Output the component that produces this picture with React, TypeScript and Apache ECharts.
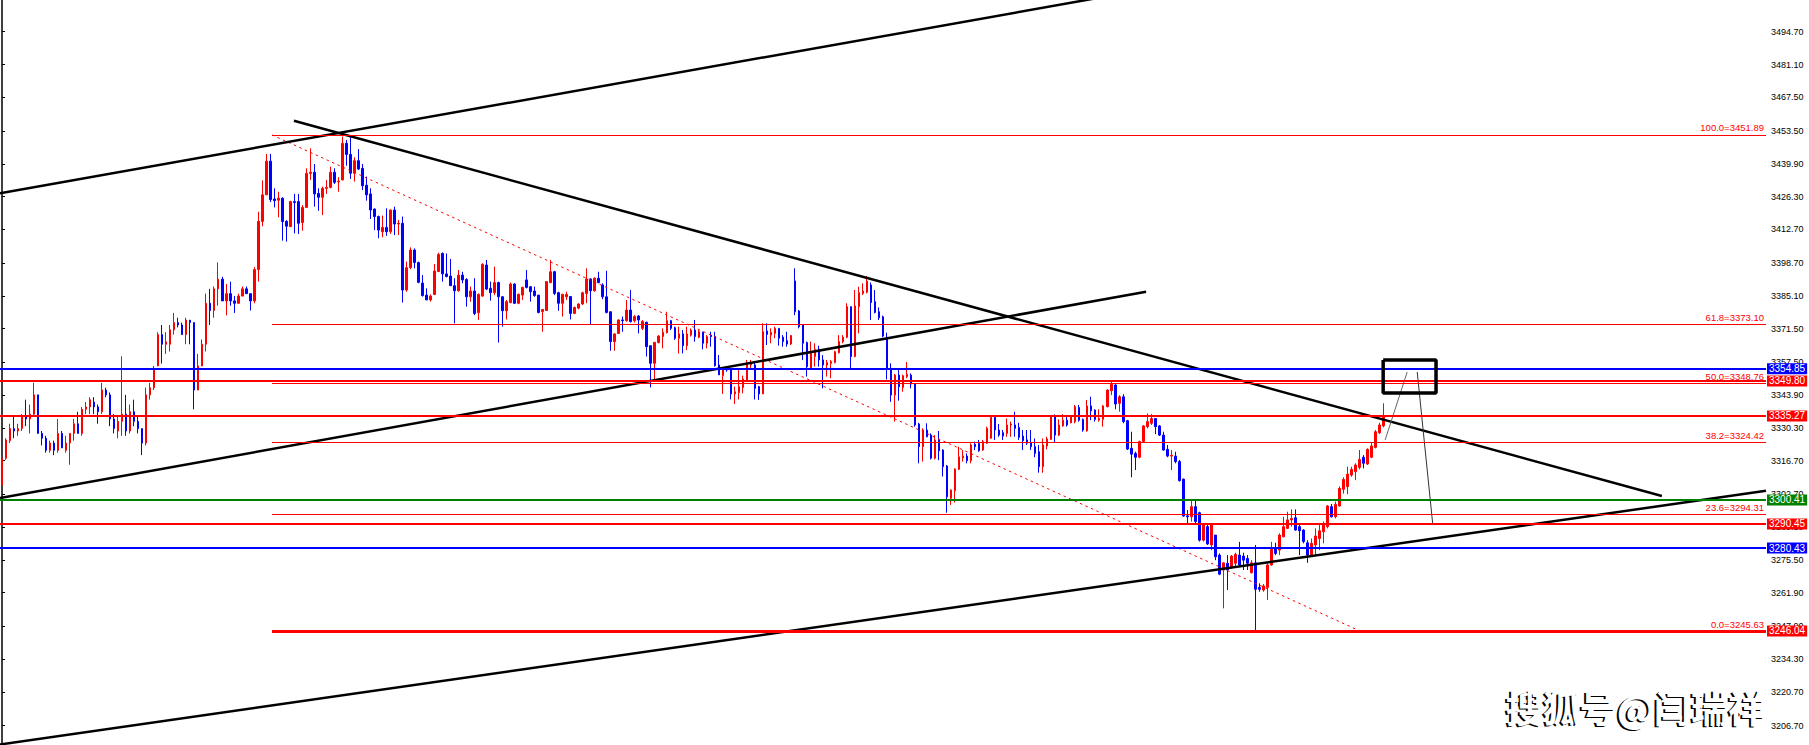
import React, { useEffect, useRef } from "react";
import * as echarts from "echarts";

// ---- candle data ----
const opens = [
3306.6,3317.7,3325,3330,3329,3330,3335,3334,3336,3344,3328,3326,3321,3324,3321,3328,3321,3324,3328,3332,
3328,3338,3339,3341,3339,3337,3346,3344,3334,3329,3333,3336,3329,3337,3333,3330,3324,3344,3347,3356,
3369,3365,3365,3371,3374,3373,3369,3375,3374,3346,3356,3365,3382,3379,3388,3392,3383,3386,3383,3382,
3385,3388,3386,3383,3396,3416,3427,3441,3425.3,3424.8,3425.6,3416,3413.8,3424.2,3424.2,3415.5,3421.8,3435.9,3436.4,3427.6,
3426,3429.7,3430.1,3436.4,3432.4,3433.2,3448.4,3443.8,3436,3441.2,3438,3431,3427.4,3421.1,3418,3411.7,3413.5,3411.7,3420.7,3414.9,
3415.2,3387.5,3396.8,3404.1,3398.9,3390.4,3385.4,3383.4,3385.7,3395.2,3402.7,3394.2,3393.3,3389.3,3387.2,3393.7,3391.9,3384.7,3387.1,3378.1,
3385,3397.9,3388.2,3386.4,3390.6,3384.7,3378.9,3382.3,3390,3382,3385.4,3391.7,3388.9,3387.1,3385.4,3378.6,3379,3390.6,3395.1,3386.4,
3382,3384.7,3384.8,3377.8,3380,3381.7,3386.1,3392.1,3387.2,3392.4,3389.6,3384.7,3378.5,3366.1,3369.5,3375.1,3374.8,3379.2,3374.8,3376.7,
3371.6,3374.1,3364.4,3357.1,3365.7,3368.2,3369.8,3374.8,3371.9,3367.5,3369.3,3364.4,3368.8,3370.9,3367.9,3370,3365.4,3368.8,3368.2,3356.4,
3352,3355,3354.3,3344.4,3344.9,3347.1,3350.2,3356.4,3356.4,3347.4,3344.4,3370.5,3368.8,3369.5,3371.6,3367.9,3366.5,3365.1,3391.3,3378.8,
3373,3365.7,3355,3359.9,3362.9,3358.5,3356.4,3357.1,3357.4,3361.5,3366.1,3367.9,3380.6,3359.9,3380.6,3386.1,3386.6,3389.6,3382.7,3378.5,
3376.4,3367.9,3355,3343.9,3352.2,3347.1,3351.6,3352.2,3348.5,3331.9,3322.5,3329.4,3327.3,3317.7,3325.3,3321.1,3314.5,3301.1,3304.2,3313.1,
3317.9,3318.6,3316.7,3323.5,3323.9,3321.1,3323.9,3326,3334.7,3329.4,3328.3,3328,3331.5,3331.5,3330.5,3326.9,3325.3,3324.2,3322.5,3320.4,
3314.2,3322.8,3325.5,3335.2,3327.3,3331.1,3333.5,3332.4,3332.9,3338.8,3333.8,3329.1,3339.4,3337.7,3333.5,3333.8,3339.1,3345.7,3348.1,3340.5,
3343.2,3333.3,3321.8,3319.7,3318.1,3324.6,3330.8,3332.2,3334.2,3331.1,3327.3,3321.4,3318.6,3318.6,3316.3,3309,3293.8,3293.4,3297.6,3295.1,
3283.7,3289.3,3281.7,3285.8,3277.5,3271.3,3274.1,3272.7,3274.1,3277.5,3277.1,3276.1,3270.2,3274.3,3264.1,3263,3264.1,3273.4,3280.3,3279.6,
3285.1,3288.6,3292.1,3293,3289.3,3287.9,3282.6,3277.5,3281.7,3284.4,3287.2,3289.3,3297.6,3293.4,3297.9,3304.8,3305.9,3310.7,3312.1,3313.9,
3318.1,3315.3,3318.1,3322.2,3328.3,3331.1
];
const closes = [
3317.7,3325.3,3330,3329,3330,3335,3334,3336,3344,3328,3326,3321,3324,3321,3328,3322,3324,3328,3332,3328,
3338,3339,3342,3339,3337,3346,3344,3334,3330,3333,3336,3329,3337,3333,3330,3324,3344,3347,3355,3369,
3365,3366,3371,3374,3373,3369,3375,3374,3346,3356,3365,3382,3379,3388,3392,3383,3386,3383,3382,3385,
3388,3386,3383,3396,3416,3427,3441,3425,3424.6,3425.6,3415.9,3414,3424.2,3423.8,3415.2,3421.8,3435.9,3436.4,3427.4,3426,
3429.7,3430.1,3436.4,3432.2,3432.7,3448.4,3443.8,3436,3441.2,3437.7,3430.8,3427,3420.7,3418,3412.4,3413.5,3411.7,3420.7,3414.9,3415.2,
3387.5,3396.8,3404.1,3398.9,3390.7,3385.2,3383.4,3385,3395.4,3402.3,3394.2,3393.1,3389.3,3387.2,3393.7,3391.7,3384.7,3387.1,3377.8,3385.7,
3398.2,3387.9,3386.4,3390.6,3384.7,3378.9,3382.7,3390,3382,3385.7,3388.6,3388.6,3386.8,3385.2,3378.2,3379.4,3391,3395.1,3386.1,3382,
3385.7,3385.7,3377.8,3380.3,3381.7,3386.4,3392.1,3387.2,3392.4,3390.6,3384.7,3378.2,3366.1,3369.3,3375.1,3374.8,3379.2,3374.4,3376.5,3375.1,
3374.4,3364,3357.1,3365.8,3368.4,3370,3374.8,3371.6,3367.5,3369.3,3364.4,3369.3,3370.9,3368.2,3370.2,3365.4,3368.2,3368.2,3356.1,3352.3,
3354.3,3354.3,3344.4,3345.3,3347.4,3350.6,3357.1,3357.4,3346.7,3344.4,3370.2,3369.1,3369.9,3371.6,3367.5,3366.1,3365.1,3368.6,3378.5,3372.3,
3365.4,3355.7,3361.2,3362.9,3358.5,3356.4,3357.4,3357.8,3361.9,3366.1,3367.9,3380.6,3359.9,3380.9,3386.4,3387.1,3391.2,3382.3,3378.2,3376,
3368.4,3355,3343.9,3352.2,3347.4,3351.9,3352.5,3348.5,3331.5,3322.5,3329.4,3326.6,3317.7,3325.3,3320.8,3314.2,3301.7,3304.5,3313.2,3318.3,
3318.6,3316.7,3323.2,3322.5,3320.8,3324.6,3330.1,3334.7,3329.4,3327.3,3326.9,3331.5,3331.9,3330.1,3326.4,3325,3323.9,3322.5,3319.7,3314.2,
3323.2,3325.7,3335.4,3327.3,3331.5,3333.5,3331.5,3334.9,3339.1,3333.5,3329.4,3339.4,3337.4,3333.8,3334.2,3339.4,3346,3348.4,3340.2,3343.2,
3332.9,3321.5,3319.4,3318.1,3324.6,3331.1,3332.9,3334.2,3330.8,3327.3,3321.1,3318.6,3318.9,3316.3,3308.4,3293.7,3293.4,3297.6,3291.4,3283.7,
3290,3282.1,3290,3276.8,3269.6,3274.3,3271.3,3277.1,3277.8,3273.4,3275.4,3274.1,3274.3,3263.3,3263.3,3264.7,3273.4,3279.9,3278.2,3285.8,
3289.3,3292.1,3292.7,3287.9,3287.6,3283.1,3277.5,3282.4,3285.4,3287.6,3290,3297.9,3293.4,3298.6,3305.2,3308.9,3311.1,3313.1,3314.9,3317.2,
3315.6,3321.4,3322.8,3328.7,3331.5,3334.9
];
const lows = [
3306,3317,3324,3326,3327,3329,3331,3328,3335,3328,3323,3320,3320,3319,3320,3322,3320,3315,3325,3328,
3327,3336,3336,3336,3332,3336,3343,3331,3328,3326,3327,3327,3328,3331,3328,3319,3323,3342,3346,3356,
3357,3361,3362,3369,3372,3369,3365,3365,3338,3346,3356,3362,3373,3376,3381,3383,3377,3381,3378,3382,
3385,3386,3379,3382,3391,3414,3427,3424,3421.8,3417.7,3408,3407.6,3413.8,3411,3410.8,3412.1,3421.8,3433.2,3422.1,3420.4,
3418.6,3427.4,3429.7,3431.5,3428.3,3433,3439.1,3433.6,3432.5,3437.3,3429,3424.6,3417,3412.4,3409,3409.4,3410,3410.8,3410.3,3410.3,
3382.3,3386.8,3396.2,3396.5,3390.3,3384.8,3383.4,3382.7,3385.4,3394.9,3391,3392.8,3389.3,3373.7,3386.8,3390.3,3380.6,3382.7,3377.1,3375.1,
3384.7,3387.5,3383.1,3385.4,3365.7,3372.3,3375.3,3382,3381.7,3381.6,3383.4,3388.2,3382.7,3384.7,3377.8,3370.2,3379,3390.3,3385.4,3378.9,
3376.5,3383.4,3375.3,3377.6,3379.5,3381.3,3382,3373,3386.8,3390.3,3383.7,3377.8,3362.3,3362.3,3369.3,3370.2,3374.4,3374,3374,3369.5,
3370.9,3359.9,3347.1,3350.2,3365.4,3363.3,3369.5,3370.9,3366.8,3361.2,3361.2,3362.6,3368.2,3366.1,3367.5,3362.9,3363.3,3364,3355.7,3352.3,
3344.4,3353.6,3342.1,3340.2,3342.1,3344.6,3349.5,3355,3342.1,3341.9,3344.4,3364.7,3365.4,3367.5,3364.4,3364,3364,3364.7,3377.1,3371.6,
3358.5,3351.6,3355,3355.7,3355.7,3346.7,3351.6,3350.9,3357.1,3361.2,3365.4,3367.5,3355,3359.6,3369.5,3385.4,3386.1,3375.1,3377.8,3375.1,
3367.9,3350.4,3341.1,3332.9,3341.6,3345.3,3350.9,3346.7,3330.8,3315.6,3316.3,3326.4,3317.2,3317.2,3316.9,3310.1,3295.1,3298.3,3299.3,3312.8,
3316.3,3315.6,3315.6,3321.1,3320.4,3320.8,3323.6,3325.7,3325.3,3326.6,3325.3,3326.6,3326.6,3326.6,3325.3,3321.1,3323.2,3321.1,3318.1,3311.7,
3311.7,3321.4,3325.3,3324.2,3326.9,3330.8,3330.8,3332.2,3332.2,3332.9,3328.7,3328.7,3333.5,3332.9,3332.9,3330.8,3338.8,3343.9,3338,3337,
3332.2,3321.1,3309.8,3312.8,3317.7,3324.2,3330.1,3331.5,3327.7,3326.9,3320.8,3318.1,3312.8,3315.6,3308,3293.4,3290.7,3291.4,3290.7,3283.1,
3283.1,3281.7,3279.6,3275.4,3269.2,3255.4,3263,3272,3272.7,3272.7,3271.3,3271.3,3269.9,3246.4,3262.3,3262.3,3258.9,3273.1,3277.5,3277.5,
3284.9,3288.3,3289.3,3287.6,3277.5,3282.4,3274.3,3276.8,3277.5,3279.6,3282.4,3288.6,3293.1,3292.7,3297.6,3303,3302.8,3310,3308.6,3313.1,
3313.5,3314.9,3317.7,3321.8,3327.7,3330.5
];
const highs = [
3319,3326,3332,3335,3332,3336,3342,3340,3349,3344,3329,3327,3325,3325,3334,3329,3327,3328,3334,3337,
3339,3341,3343,3343,3340,3349,3347,3345,3336,3335,3360,3344,3340,3342,3335,3330,3347,3349,3356,3370,
3373,3370,3373,3378,3376,3374,3376,3375,3374,3361,3367,3386,3388,3389,3399,3393,3390,3391,3385,3386,
3389,3389,3386,3397,3420,3433,3444,3444,3429.7,3428.3,3426,3416.5,3424.5,3427.4,3427.4,3422.8,3438,3446.3,3439.8,3429.7,
3430.4,3433.2,3438.7,3438,3434.3,3451.2,3449.8,3451.2,3442.6,3446,3439.8,3434.6,3429.7,3421.4,3418.4,3418.4,3421.4,3421,3422.1,3416.6,
3418,3399.3,3405.2,3404.8,3399.3,3393.7,3388.2,3385.7,3398.3,3403,3403.1,3402.7,3400.4,3392.4,3395.8,3395.1,3392.4,3388.9,3392.4,3386.1,
3398.6,3400,3391,3397.2,3391,3385,3383.4,3390.6,3390.3,3386.1,3388.9,3395.8,3388.9,3388.9,3385.4,3379.6,3391,3400,3395.5,3386.8,
3386,3386.8,3385,3380.6,3382,3386.8,3396.5,3392.4,3392.8,3395.1,3390.3,3395.5,3378.5,3369.5,3375.3,3376.5,3383.4,3387.5,3377.1,3377.1,
3375.1,3374.4,3364.4,3365.8,3368.8,3371.6,3378.5,3375.1,3372.3,3372.3,3370.9,3372.3,3371.6,3375.1,3370.9,3370.2,3368.8,3370.2,3370.2,3360.5,
3354.6,3355.7,3355,3347.4,3354.3,3352,3358.5,3358.5,3357.8,3347.7,3373.7,3373.7,3371.6,3372.3,3371.6,3368.8,3370.2,3368.8,3396.5,3379.2,
3373.4,3366.1,3366.1,3365.4,3364.4,3360.5,3358.5,3358.5,3362.3,3368.8,3368.8,3382,3380.6,3387.5,3388.9,3390.3,3393.3,3390.6,3387.5,3380.3,
3376.9,3369.8,3357.1,3352.7,3354.7,3352.4,3357.6,3352.9,3348.8,3332.4,3330.1,3332.2,3328,3327.3,3329,3321.4,3314.9,3304.8,3313.5,3322.5,
3321.1,3319.7,3323.9,3324.6,3325.3,3325.3,3330.8,3335,3335,3331.9,3329.4,3334.2,3332.9,3337,3332.4,3329.4,3329.4,3329.4,3325.9,3323.2,
3325.9,3326.6,3335.6,3335.9,3333.8,3336,3334.9,3335.6,3339.8,3339.8,3334.2,3341.9,3343.2,3338,3338,3339.8,3346.3,3349.5,3348.4,3343.9,
3344.3,3333.6,3328.7,3320.4,3325,3331.5,3336.3,3336,3334.2,3331.5,3328.7,3323.2,3321.1,3320.4,3317,3309.3,3296.2,3300.1,3300.1,3295.5,
3290.7,3290.4,3290.4,3285.8,3278.2,3274.3,3277.5,3277.5,3278.5,3283,3278.5,3277.5,3275.4,3281.7,3265.8,3265.5,3274.1,3283,3282.6,3286.5,
3293.4,3295.5,3296.5,3296.5,3290,3288.2,3283.7,3284.4,3288.6,3290.7,3291.4,3298.3,3298.7,3299.7,3306,3309.8,3314.2,3314.2,3315.6,3321.1,
3319,3321.8,3324.2,3329.4,3332.4,3340.5
];

// ---- axes ----
const slotCount = 441;
const yMax = 3507.87;
const yMin = 3198.69;
const yTicks = [3494.7,3481.1,3467.5,3453.5,3439.9,3426.3,3412.7,3398.7,3385.1,3371.5,3357.5,3343.9,3330.3,3316.7,3302.7,3289.1,3275.5,3261.9,3247.9,3234.3,3220.7,3206.7];

// ---- horizontal price lines ----
const levelValues = [3354.85, 3349.80, 3335.27, 3300.41, 3290.45, 3280.43, 3246.04];
const levelColors = ["#0000ff", "#ff0000", "#ff0000", "#008000", "#ff0000", "#0000ff", "#ff0000"];
const levelStarts = [-0.5, -0.5, -0.5, -0.5, -0.5, -0.5, 67.42];

// ---- fibonacci ----
const fibRatios = ["100.0", "61.8", "50.0", "38.2", "23.6", "0.0"];
const fibValues = [3451.89, 3373.10, 3348.76, 3324.42, 3294.31, 3245.63];
const fibAnchor = [[67.42, 3451.89], [339.6, 3245.63]];

// ---- trend lines ([slot, price]) ----
const upperChannel = [[-0.5, 3427.65], [280, 3510.6]];
const middleChannel = [[-0.5, 3301.2], [285.7, 3386.8]];
const lowerChannel = [[-0.5, 3198.9], [440.5, 3304.2]];
const fallingLine = [[72.9, 3457.78], [414.5, 3302.02]];
const boxOutline = [[344.9, 3358.5], [358.1, 3358.5], [358.1, 3344.8], [344.9, 3344.8], [344.9, 3358.5]];
const pathUp = [[345.4, 3325.3], [350.9, 3353.5]];
const pathDown = [[353.4, 3353.5], [357.3, 3290.0]];

const FONT = "'Liberation Sans', Arial, sans-serif";

function lineSeries(data: number[][], color: string, width: number, type: any = "solid", z = 3) {
  return {
    type: "line",
    xAxisIndex: 1,
    data,
    symbol: "none",
    silent: true,
    z,
    lineStyle: { color, width, type },
  };
}

export default function App() {
  const ref = useRef<HTMLDivElement>(null);
  useEffect(() => {
    if (!ref.current) return;
    const chart = echarts.init(ref.current, null, { renderer: "svg" });
    const slots = Array.from({ length: slotCount }, (_, i) => String(i));
    const candles = opens.map((o, i) => [o, closes[i], lows[i], highs[i]]);

    const levelLines = levelValues.map((v, i) => [
      { coord: [levelStarts[i], v], lineStyle: { color: levelColors[i], width: 2, type: "solid" },
        label: { show: true, position: "end", distance: 1, formatter: v.toFixed(2), color: "#fff",
          backgroundColor: levelColors[i], padding: [1, 2, 0, 2], fontSize: 10, lineHeight: 10, fontFamily: FONT } },
      { coord: [440.5, v] },
    ]);
    const fibLines = fibValues.map((v, i) => [
      { coord: [fibAnchor[0][0], v], lineStyle: { color: "#ff0000", width: 1, type: "solid" },
        label: { show: true, position: "insideEndTop", distance: 2, formatter: fibRatios[i] + "=" + v.toFixed(2),
          color: "#ff0000", fontSize: 9.5, fontFamily: FONT } },
      { coord: [440.5, v] },
    ]);

    chart.setOption({
      animation: false,
      backgroundColor: "#ffffff",
      grid: { left: 0, right: 43, top: 0, bottom: 0, containLabel: false },
      xAxis: [
        { type: "category", data: slots, boundaryGap: true, show: false },
        { type: "value", min: -0.5, max: slotCount - 0.5, show: false },
      ],
      yAxis: {
        type: "value",
        position: "right",
        min: yMin,
        max: yMax,
        splitLine: { show: false },
        axisLine: { show: true, lineStyle: { color: "#000", width: 1.5 } },
        axisTick: { show: true, length: 3, lineStyle: { color: "#000" }, customValues: yTicks },
        axisLabel: { customValues: yTicks, formatter: (v: number) => v.toFixed(2), color: "#000", fontSize: 9, fontFamily: FONT, margin: 5 },
      },
      series: [
        {
          type: "candlestick",
          xAxisIndex: 0,
          data: candles,
          barWidth: 2,
          z: 2,
          itemStyle: { color: "#ff0000", color0: "#0000ff", borderColor: "#ff0000", borderColor0: "#0000ff", borderWidth: 1 },
        },
        {
          ...lineSeries(fibAnchor, "#ff0000", 1, [2.5, 3.5], 3),
          markLine: { silent: true, symbol: ["none", "none"], animation: false, data: [...fibLines, ...levelLines] },
        },
        lineSeries(upperChannel, "#000", 2.5),
        lineSeries(middleChannel, "#000", 2.5),
        lineSeries(lowerChannel, "#000", 2.5),
        lineSeries(fallingLine, "#000", 2.5),
        lineSeries(boxOutline, "#000", 3.5, "solid", 5),
        lineSeries(pathUp, "#666", 1),
        lineSeries(pathDown, "#333", 1),
      ],
      graphic: [
        { type: "text", right: 46, bottom: 19, z: 20, style: { text: "搜狐号@闫瑞祥", fill: "#000", font: "bold 37px 'Noto Sans CJK SC', sans-serif" } },
        { type: "text", right: 44, bottom: 20, z: 21, style: { text: "搜狐号@闫瑞祥", fill: "#fff", font: "bold 37px 'Noto Sans CJK SC', sans-serif" } },
      ],
    });
    return () => chart.dispose();
  }, []);
  return <div ref={ref} style={{ position: "fixed", left: 0, top: 0, width: 1809, height: 745, background: "#fff" }} />;
}
